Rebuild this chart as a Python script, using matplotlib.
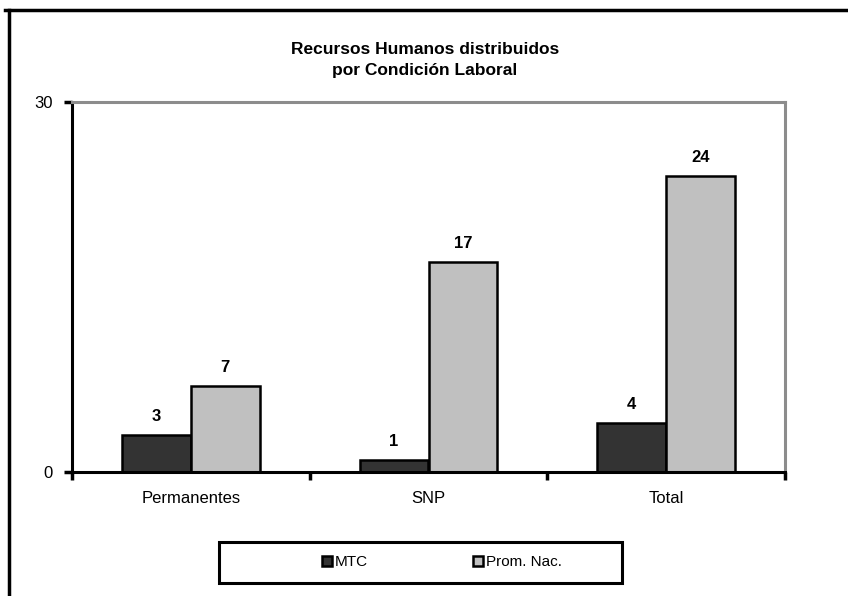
import matplotlib
matplotlib.use("Agg")
import matplotlib.pyplot as plt
from matplotlib.lines import Line2D
from matplotlib.patches import Patch, Rectangle
import numpy as np

categories = ["Permanentes", "SNP", "Total"]
mtc = [3, 1, 4]
prom_nac = [7, 17, 24]
series_names = ["MTC", "Prom. Nac."]
title = "Recursos Humanos distribuidos\npor Condición Laboral"

plt.rcParams['font.family'] = ['Liberation Sans Narrow', 'Liberation Sans', 'DejaVu Sans']

fig = plt.figure(figsize=(8.48, 5.96), dpi=100)
ax = fig.add_axes([72/848, 1-472/596, (785-72)/848, (472-102)/596])

x = np.arange(len(categories))
w = 0.29
b1 = ax.bar(x - w/2, mtc, w, color="#333333", edgecolor="black", linewidth=1.8, label=series_names[0])
b2 = ax.bar(x + w/2, prom_nac, w, color="#c0c0c0", edgecolor="black", linewidth=1.8, label=series_names[1])

for bars, vals in ((b1, mtc), (b2, prom_nac)):
    for r, v in zip(bars, vals):
        ax.annotate(str(v), (r.get_x() + r.get_width()/2, v), xytext=(0, 8),
                    textcoords="offset points", ha="center", va="bottom",
                    fontsize=12, fontweight="bold")

ax.set_xlim(-0.5, len(categories) - 0.5)
ax.set_ylim(0, 30)
ax.set_yticks([0, 30])
ax.set_yticklabels(["0", "30"], fontsize=12)
ax.set_xticks(x)
ax.set_xticklabels(categories, fontsize=12)
ax.tick_params(axis="x", length=0, pad=14)
ax.set_xticks(np.arange(-0.5, len(categories)), minor=True)
ax.tick_params(axis="x", which="minor", length=6, width=2.5, color="black", direction="out")
ax.tick_params(axis="y", length=6, width=2.5, color="black", direction="out", pad=8)

for s in ("left", "bottom"):
    ax.spines[s].set_color("black")
    ax.spines[s].set_linewidth(2.2)
for s in ("top", "right"):
    ax.spines[s].set_color("#8c8c8c")
    ax.spines[s].set_linewidth(2.2)

fig.text(425/848, 1-60/596, title, ha="center", va="center", fontsize=12.5,
         fontweight="bold", linespacing=1.5)

# legend box
fig.add_artist(Rectangle((219/848, 1-583/596), (622-219)/848, (583-542)/596,
                         transform=fig.transFigure, facecolor="white",
                         edgecolor="black", linewidth=2.2, zorder=2))
handles = [Patch(facecolor="#333333", edgecolor="black", linewidth=1.8),
           Patch(facecolor="#c0c0c0", edgecolor="black", linewidth=1.8)]
leg = fig.legend(handles, series_names, loc="center", bbox_to_anchor=(442/848, 1-562/596),
                 ncol=2, frameon=False, fontsize=11,
                 handlelength=0.65, handleheight=0.65, handletextpad=0.2,
                 columnspacing=6.9, borderpad=0.2)
leg.set_zorder(3)

# outer frame (top and left visible)
fig.add_artist(Line2D([5/848, 1.0], [1-10/596, 1-10/596], color="black", linewidth=2.5,
                      transform=fig.transFigure))
fig.add_artist(Line2D([9/848, 9/848], [0.0, 1-10/596], color="black", linewidth=2.5,
                      transform=fig.transFigure))

fig.savefig("out.png", dpi=100)
